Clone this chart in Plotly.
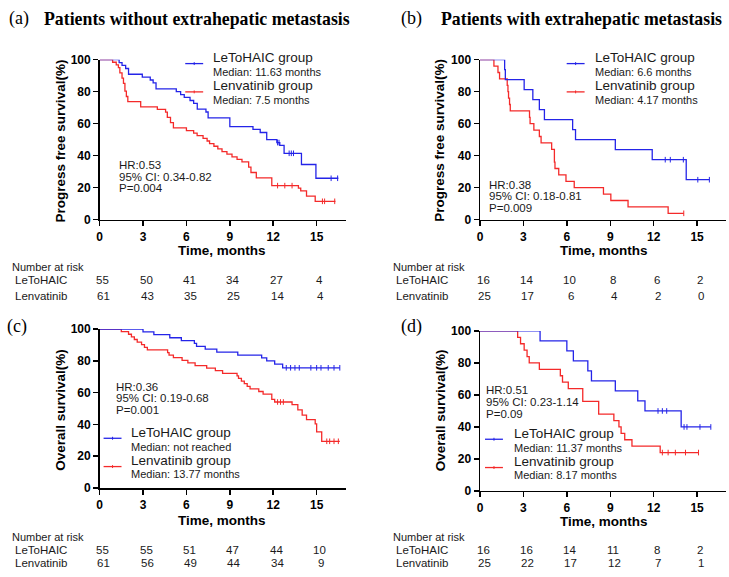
import numpy as np
import plotly.graph_objects as go

W, H = 729, 577
BLUE = "#2424e8"
RED = "#f42a2a"
SANS = "Arial, Liberation Sans, sans-serif"
SERIF = "Times New Roman, Liberation Serif, serif"

xticks = [0, 3, 6, 9, 12, 15]

# ---- Panel (a): PFS, without extrahepatic metastasis ----
a_blue_t = [0, 1.35, 1.55, 1.8, 2.0, 2.95, 3.5, 3.7, 3.9, 5.3, 5.6, 5.85, 6.25, 6.5, 6.75, 7.35, 7.5, 9.0, 10.6, 11.1, 11.55, 12.25, 12.45, 12.75, 13.95, 14.95]
a_blue_s = [100, 98.2, 96.4, 94.5, 90.9, 89.1, 87.3, 85.5, 81.8, 80.0, 78.2, 76.4, 74.5, 72.7, 69.1, 67.3, 63.6, 58.2, 56.4, 54.5, 50.0, 48.2, 46.4, 41.5, 34.5, 25.9]
a_blue_end = 16.5
a_blue_cens = [12.3, 12.4, 13.1, 13.25, 13.4, 16.0, 16.45]
a_red_t = [0, 0.9, 1.15, 1.3, 1.4, 1.55, 1.65, 1.75, 1.85, 1.95, 2.84, 3.99, 4.56, 4.68, 4.9, 5.1, 6.0, 6.5, 6.74, 7.15, 7.43, 7.6, 7.9, 8.17, 8.46, 8.8, 9.15, 9.5, 9.84, 10.3, 10.46, 10.83, 11.9, 13.74, 13.9, 14.3, 14.9]
a_red_s = [100, 98.4, 96.7, 95.1, 91.8, 88.5, 85.2, 80.3, 77.0, 73.8, 70.5, 68.9, 67.2, 63.9, 60.7, 57.4, 55.7, 54.1, 52.5, 50.8, 49.2, 47.5, 45.9, 44.3, 42.6, 41.0, 39.3, 37.7, 36.1, 32.8, 29.5, 26.2, 21.3, 19.7, 18.0, 14.8, 11.5]
a_red_end = 16.3
a_red_cens = [12.3, 12.8, 13.3, 15.4, 15.55, 16.25]
a_risk_blue = [55, 50, 41, 34, 27, 4]
a_risk_red = [61, 43, 35, 25, 14, 4]

# ---- Panel (b): PFS, with extrahepatic metastasis ----
b_blue_t = [0, 1.7, 1.75, 3.05, 3.65, 4.1, 4.45, 6.4, 6.6, 9.35, 11.9, 14.25]
b_blue_s = [100, 93.75, 87.5, 81.25, 75, 68.75, 62.5, 56.25, 50, 43.75, 37.5, 25]
b_blue_end = 15.85
b_blue_cens = [12.8, 13.15, 14.05, 15.05, 15.85]
b_red_t = [0, 0.96, 1.24, 1.35, 1.88, 1.93, 1.97, 2.04, 2.09, 3.42, 3.46, 3.72, 4.1, 4.22, 4.95, 5.14, 5.18, 5.44, 5.94, 6.51, 8.53, 9.04, 10.23, 13.0]
b_red_s = [100, 96, 92, 88, 84, 80, 76, 72, 68, 64, 60, 56, 52, 48, 44, 36, 32, 28, 24, 20, 16, 12, 8, 4]
b_red_end = 14.08
b_red_cens = [14.08]
b_risk_blue = [16, 14, 10, 8, 6, 2]
b_risk_red = [25, 17, 6, 4, 2, 0]

# ---- Panel (c): OS, without extrahepatic metastasis ----
c_blue_t = [0, 3.0, 3.75, 4.85, 5.65, 6.55, 6.7, 7.3, 8.1, 9.55, 11.2, 11.55, 12.1, 12.65]
c_blue_s = [100, 98.2, 96.4, 94.5, 92.7, 90.9, 89.1, 87.3, 85.5, 83.6, 81.8, 79.9, 77.9, 75.6]
c_blue_end = 16.6
c_blue_cens = [12.9, 13.2, 13.5, 13.8, 14.6, 15.0, 15.3, 15.8, 16.2, 16.6]
c_red_t = [0, 1.5, 2.0, 2.2, 2.4, 2.6, 2.9, 3.1, 3.3, 4.7, 4.8, 5.1, 5.7, 6.1, 6.6, 7.4, 8.0, 8.5, 9.5, 9.6, 9.8, 10.0, 10.2, 10.4, 11.0, 11.3, 11.9, 12.1, 13.3, 13.7, 14.0, 14.3, 14.9, 15.0, 15.35]
c_red_s = [100, 98.4, 96.7, 95.1, 93.4, 91.8, 90.2, 88.5, 86.9, 85.2, 83.6, 82.0, 80.3, 78.7, 77.0, 75.4, 73.8, 72.1, 70.5, 68.9, 67.2, 65.6, 63.9, 62.3, 60.7, 59.0, 55.7, 54.1, 52.5, 49.2, 45.9, 43.0, 40.3, 35.3, 29.4]
c_red_end = 16.6
c_red_cens = [12.3, 12.5, 12.7, 15.7, 15.9, 16.2, 16.5]
c_risk_blue = [55, 55, 51, 47, 44, 10]
c_risk_red = [61, 56, 49, 44, 34, 9]

# ---- Panel (d): OS, with extrahepatic metastasis ----
d_blue_t = [0, 4.15, 6.0, 6.45, 7.45, 7.7, 9.35, 10.9, 11.4, 13.9]
d_blue_s = [100, 93.75, 87.5, 81.25, 75, 68.75, 62.5, 56.25, 50, 40]
d_blue_end = 15.95
d_blue_cens = [12.3, 12.6, 12.9, 14.1, 14.3, 15.2, 15.95]
d_red_t = [0, 2.6, 2.8, 3.05, 3.25, 3.4, 4.1, 5.55, 5.7, 6.1, 7.1, 8.2, 9.25, 9.6, 9.75, 10.0, 10.5, 12.45]
d_red_s = [100, 96, 92, 88, 84, 80, 76, 72, 68, 64, 56, 48, 44, 40, 36, 32, 28, 24]
d_red_end = 15.1
d_red_cens = [12.6, 13.0, 13.5, 14.2, 15.1]
d_risk_blue = [16, 16, 14, 11, 8, 2]
d_risk_red = [25, 22, 17, 12, 7, 1]

titles = ["Patients without extrahepatic metastasis", "Patients with extrahepatic metastasis"]
stats = [["HR:0.53", "95% CI: 0.34-0.82", "P=0.004"],
         ["HR:0.38", "95% CI: 0.18-0.81", "P=0.009"],
         ["HR:0.36", "95% CI: 0.19-0.68", "P=0.001"],
         ["HR:0.51", "95% CI: 0.23-1.14", "P=0.09"]]
medians = [["Median: 11.63 months", "Median: 7.5 months"],
           ["Median: 6.6 months", "Median: 4.17 months"],
           ["Median: not reached", "Median: 13.77 months"],
           ["Median: 11.37 months", "Median: 8.17 months"]]
ytitles = ["Progress free survival(%)", "Progress free survival(%)", "Overall survival(%)", "Overall survival(%)"]


def px(x):
    return x / W


def py(y):
    return 1 - y / H


panels = [
    dict(bt=a_blue_t, bs=a_blue_s, be=a_blue_end, bc=a_blue_cens, rt=a_red_t, rs=a_red_s, re=a_red_end, rc=a_red_cens,
         rb=a_risk_blue, rr=a_risk_red, dom=(97, 344, 54, 218)),
    dict(bt=b_blue_t, bs=b_blue_s, be=b_blue_end, bc=b_blue_cens, rt=b_red_t, rs=b_red_s, re=b_red_end, rc=b_red_cens,
         rb=b_risk_blue, rr=b_risk_red, dom=(479, 726, 54, 218)),
    dict(bt=c_blue_t, bs=c_blue_s, be=c_blue_end, bc=c_blue_cens, rt=c_red_t, rs=c_red_s, re=c_red_end, rc=c_red_cens,
         rb=c_risk_blue, rr=c_risk_red, dom=(97, 344, 330, 493)),
    dict(bt=d_blue_t, bs=d_blue_s, be=d_blue_end, bc=d_blue_cens, rt=d_red_t, rs=d_red_s, re=d_red_end, rc=d_red_cens,
         rb=d_risk_blue, rr=d_risk_red, dom=(479, 726, 332, 496)),
]

fig = go.Figure()
layout = {}
annotations = []
shapes = []


def step_val(t, s, q):
    idx = np.searchsorted(np.array(t), np.array(q), side="right") - 1
    return list(np.array(s)[idx])


for i, p in enumerate(panels):
    n = "" if i == 0 else str(i + 1)
    xa, ya = "x" + n, "y" + n
    for tt, ss, ee, cc, col in [(p["rt"], p["rs"], p["re"], p["rc"], RED), (p["bt"], p["bs"], p["be"], p["bc"], BLUE)]:
        fig.add_trace(go.Scatter(x=tt + [ee], y=ss + [ss[-1]], mode="lines", line=dict(color=col, width=1.3, shape="hv"),
                                 xaxis=xa, yaxis=ya, showlegend=False, cliponaxis=False, hoverinfo="skip"))
        fig.add_trace(go.Scatter(x=cc, y=step_val(tt, ss, cc), mode="markers",
                                 marker=dict(symbol="line-ns", size=4, line=dict(color=col, width=1)),
                                 xaxis=xa, yaxis=ya, showlegend=False, cliponaxis=False, hoverinfo="skip"))
    x0, x1, y0, y1 = p["dom"]
    axcommon = dict(showline=True, linecolor="black", linewidth=1.5, ticks="outside", ticklen=5, tickwidth=1.5,
                    tickcolor="black", showgrid=False, zeroline=False, fixedrange=True,
                    tickfont=dict(family=SANS, size=12, color="black", weight="bold"))
    layout["xaxis" + n] = dict(domain=[px(x0), px(x1)], range=[0, 17], tickvals=xticks, anchor=ya, **axcommon)
    layout["yaxis" + n] = dict(domain=[py(y1), py(y0)], range=[0, 100], tickvals=[0, 20, 40, 60, 80, 100],
                               anchor=xa, **axcommon)


def ann(text, x, y, size, xanchor="left", family=SANS, bold=False, color="#1a1a1a", angle=0, xref="paper", xshift=0):
    annotations.append(dict(text=text, x=x if xref != "paper" else px(x), y=py(y), xref=xref, yref="paper",
                            xanchor=xanchor, yanchor="middle", showarrow=False, textangle=angle, xshift=xshift,
                            borderpad=0,
                            font=dict(family=family, size=size, color=color, weight="bold" if bold else "normal")))


# panel titles
ann("(a)", 5, 12, 18, family=SERIF, color="black")
ann(titles[0], 40, 12, 17.8, family=SERIF, bold=True, color="black")
ann("(b)", 399, 12, 18, family=SERIF, color="black")
ann(titles[1], 439, 12, 17.8, family=SERIF, bold=True, color="black")
ann("(c)", 3, 327, 18, family=SERIF, color="black")
ann("(d)", 399, 327, 18, family=SERIF, color="black")

# y-axis titles
ann(ytitles[0], 58, 137, 13.5, xanchor="center", bold=True, angle=-90, color="black")
ann(ytitles[1], 438, 137, 13.5, xanchor="center", bold=True, angle=-90, color="black")
ann(ytitles[2], 58, 413, 13.5, xanchor="center", bold=True, angle=-90, color="black")
ann(ytitles[3], 440, 413, 13.5, xanchor="center", bold=True, angle=-90, color="black")

# x-axis titles
ann("Time, months", 220, 250, 13.5, xanchor="center", bold=True, color="black")
ann("Time, months", 603, 250, 13.5, xanchor="center", bold=True, color="black")
ann("Time, months", 220, 526, 13.5, xanchor="center", bold=True, color="black")
ann("Time, months", 603, 527, 13.5, xanchor="center", bold=True, color="black")

# stats
stat_pos = [(115, 162), (487, 182), (112, 389), (484, 393)]
for i, (sx, sy) in enumerate(stat_pos):
    for k, line in enumerate(stats[i]):
        ann(line, sx, sy + 12 * k, 11.5)

# legends
leg_pos = [(183, 201, 210, 52), (566, 584, 593, 52), (101, 119, 128, 436), (484, 502, 512, 437)]
for i, (lx0, lx1, tx, ty) in enumerate(leg_pos):
    ann("LeToHAIC group", tx, ty, 13.5)
    ann(medians[i][0], tx, ty + 14.5, 11)
    ann("Lenvatinib group", tx, ty + 28.5, 13.5)
    ann(medians[i][1], tx, ty + 43, 11)
    for ly, col in [(ty + 6, BLUE), (ty + 35, RED)]:
        shapes.append(dict(type="line", xref="paper", yref="paper", x0=px(lx0), x1=px(lx1), y0=py(ly), y1=py(ly),
                           line=dict(color=col, width=1.3)))
        xm = (lx0 + lx1) / 2
        shapes.append(dict(type="line", xref="paper", yref="paper", x0=px(xm), x1=px(xm), y0=py(ly - 1.5),
                           y1=py(ly + 1.5), line=dict(color=col, width=1)))

# number at risk tables
risk_rows = [(8, 266, 280, 296), (391, 266, 280, 296), (8, 543, 556, 570), (391, 543, 556, 570)]
for i, (rx, y0, y1, y2) in enumerate(risk_rows):
    n = "" if i == 0 else str(i + 1)
    ann("Number at risk", rx, y0, 11)
    ann("LeToHAIC", rx + 3, y1, 11.5)
    ann("Lenvatinib", rx + 3, y2, 11.5)
    for j, t in enumerate(xticks):
        ann(str(panels[i]["rb"][j]), t, y1, 11.5, xanchor="center", xref="x" + n, xshift=3)
        ann(str(panels[i]["rr"][j]), t, y2, 11.5, xanchor="center", xref="x" + n, xshift=4)

fig.update_layout(width=W, height=H, margin=dict(l=0, r=0, t=0, b=0), paper_bgcolor="white",
                  plot_bgcolor="white", annotations=annotations, shapes=shapes, showlegend=False,
                  hovermode=False, dragmode=False, **layout)

fig.write_html("out.html", config={"displayModeBar": False, "staticPlot": True},
               post_script="document.body.style.margin='0';document.body.style.overflow='hidden';")
